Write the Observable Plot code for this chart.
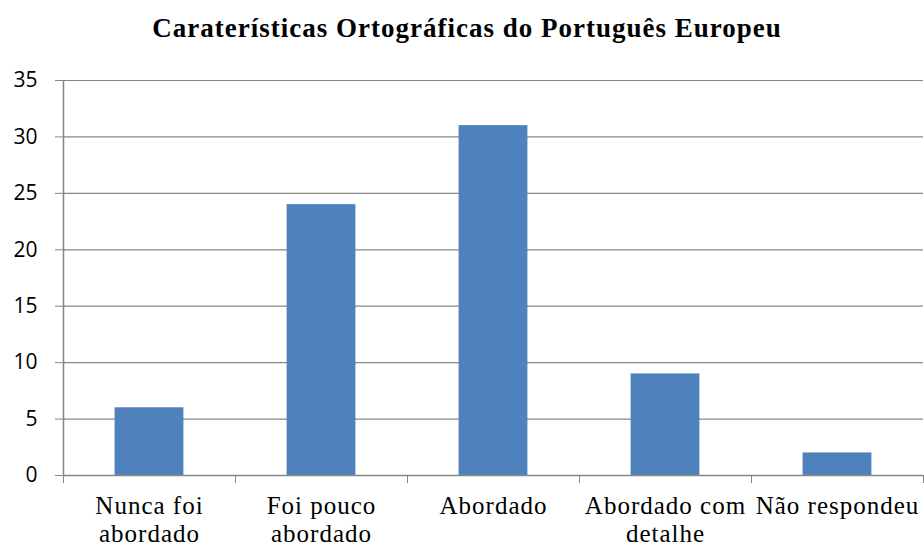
<!DOCTYPE html>
<html>
<head>
<meta charset="utf-8">
<script src="https://cdn.jsdelivr.net/npm/d3@7"></script>
<script src="https://cdn.jsdelivr.net/npm/@observablehq/plot@0.6"></script>
<style>
  html, body { margin: 0; padding: 0; background: #fff; }
  #title { height: 64px; line-height: 56px; text-align: center; font-family: "Liberation Serif", "Times New Roman", serif; font-weight: bold; font-size: 27px; letter-spacing: 1px; color: #000; padding-left: 10px; white-space: nowrap; }
  #chart svg { display: block; }
  #chart .xlab, #chart .xlab text { font-family: "Liberation Serif", "Times New Roman", serif !important; letter-spacing: 1px; }
  #chart .ylab, #chart .ylab text { font-family: "Open Sans", sans-serif !important; }
</style>
</head>
<body>
<div id="title">Caraterísticas Ortográficas do Português Europeu</div>
<div id="chart"></div>
<script>
const categories = ["Nunca foi\nabordado", "Foi pouco\nabordado", "Abordado", "Abordado com\ndetalhe", "Não respondeu"];
const values = [6, 24, 31, 9, 2];
const yTicks = [0, 5, 10, 15, 20, 25, 30, 35];
const boundaries = [0, 1, 2, 3, 4, 5];

const data = categories.map((c, i) => ({i, label: c, value: values[i]}));
const gray = "#868686";

const plot = Plot.plot({
  width: 924,
  height: 484,
  marginTop: 16,
  marginBottom: 73,
  marginLeft: 63,
  marginRight: 1,
  x: {domain: [0, 5], axis: null},
  y: {domain: [0, 35], axis: null},
  marks: [
    Plot.gridY(yTicks, {stroke: gray, strokeOpacity: 1, strokeWidth: 1.2}),
    Plot.rectY(data, {x1: d => d.i + 0.3, x2: d => d.i + 0.7, y: "value", fill: "#4F81BD"}),
    Plot.ruleX([0], {stroke: gray, strokeWidth: 1.5}),
    Plot.ruleY([0], {stroke: gray, strokeWidth: 1.5}),
    Plot.axisY({ticks: yTicks, label: null, tickSize: 8, tickPadding: 18, stroke: gray, fontSize: 21, className: "ylab", fill: "#000"}),
    Plot.axisX({ticks: boundaries, label: null, tickSize: 8, tickFormat: () => "", stroke: gray}),
    Plot.text(data, {x: d => d.i + 0.5, text: "label", frameAnchor: "bottom", lineAnchor: "top", dy: 19, lineHeight: 1.1, fontSize: 25, className: "xlab", fill: "#000"})
  ]
});
document.getElementById("chart").appendChild(plot);
</script>
</body>
</html>
